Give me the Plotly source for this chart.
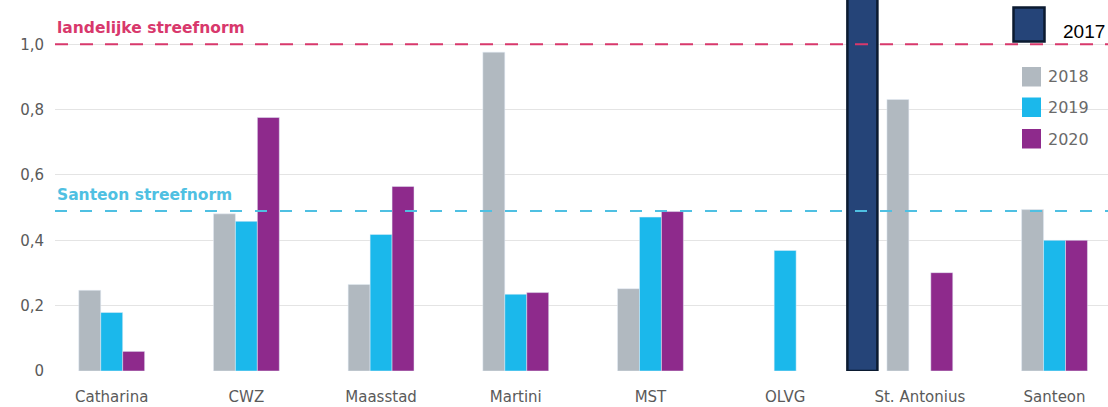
import plotly.graph_objects as go

# ---- data ----
categories = ["Catharina", "CWZ", "Maasstad", "Martini", "MST", "OLVG", "St. Antonius", "Santeon"]
v2017 = [None, None, None, None, None, None, 1.25, None]
v2018 = [0.247, 0.481, 0.265, 0.976, 0.252, None, 0.831, 0.494]
v2019 = [0.179, 0.458, 0.418, 0.235, 0.471, 0.369, None, 0.400]
v2020 = [0.060, 0.776, 0.565, 0.240, 0.488, None, 0.301, 0.400]
landelijke_norm = 1.0
santeon_norm = 0.49
ytick_vals = [0, 0.2, 0.4, 0.6, 0.8, 1.0]
ytick_text = ["0", "0,2", "0,4", "0,6", "0,8", "1,0"]
legend_years = ["2018", "2019", "2020"]

C2017 = "#254478"
C2018 = "#b1b9c0"
C2019 = "#1bb8eb"
C2020 = "#8e2a8c"
PINK = "#d8386c"
CYAN = "#4fc0e2"
FONT = "DejaVu Sans"

W, H = 1108, 407
ML, MR, MT, MB = 55, 0, 0, 36

fig = go.Figure()
bw = 0.163
fig.add_bar(x=categories, y=v2018, width=bw, offset=-1.5 * bw, marker_color=C2018, name="2018")
fig.add_bar(x=categories, y=v2019, width=bw, offset=-0.5 * bw, marker_color=C2019, name="2019")
fig.add_bar(x=categories, y=v2020, width=bw, offset=0.5 * bw, marker_color=C2020, name="2020")
fig.add_bar(x=categories, y=v2017, width=0.223, offset=-0.538, marker_color=C2017,
            marker_line_color="#0b1a30", marker_line_width=2.5, name="2017")

shapes = []
# norm lines
shapes.append(dict(type="line", xref="x domain", yref="y", x0=0, x1=1,
                   y0=landelijke_norm, y1=landelijke_norm,
                   line=dict(color=PINK, width=2, dash="13px,12px")))
shapes.append(dict(type="line", xref="x domain", yref="y", x0=0, x1=1,
                   y0=santeon_norm, y1=santeon_norm,
                   line=dict(color=CYAN, width=2, dash="12px,13px")))

def px2x(px):
    return (px - ML) / (W - ML - MR)

def py2y(py):
    return (H - MB - py) / (H - MB - MT)

# legend background
shapes.append(dict(type="rect", xref="x domain", yref="y domain", layer="below",
                   x0=px2x(992), x1=1.0, y0=py2y(165), y1=py2y(50),
                   fillcolor="white", line=dict(width=0)))
# 2017 legend box
shapes.append(dict(type="rect", xref="x domain", yref="y domain",
                   x0=px2x(1013.5), x1=px2x(1044.5), y0=py2y(41.5), y1=py2y(7.5),
                   fillcolor=C2017, line=dict(color="#0b1a30", width=2.5)))

annotations = []
annotations.append(dict(text="2017", xref="x domain", yref="y domain", x=px2x(1061), y=py2y(31.5),
                        xanchor="left", yanchor="middle", showarrow=False,
                        font=dict(family="Liberation Sans", size=19, color="#000000")))
leg_cols = [C2018, C2019, C2020]
leg_tops = [67, 97.5, 129]
for yr, col, top in zip(legend_years, leg_cols, leg_tops):
    shapes.append(dict(type="rect", xref="x domain", yref="y domain",
                       x0=px2x(1022), x1=px2x(1041), y0=py2y(top + 19.5), y1=py2y(top),
                       fillcolor=col, line=dict(width=0)))
    annotations.append(dict(text=yr, xref="x domain", yref="y domain", x=px2x(1046),
                            y=py2y(top + 10), xanchor="left", yanchor="middle", showarrow=False,
                            font=dict(family=FONT, size=16, color="#6a6a6a")))

annotations.append(dict(text="<b>landelijke streefnorm</b>", xref="x domain", yref="y",
                        x=0, y=landelijke_norm, yshift=16, xanchor="left", yanchor="middle",
                        showarrow=False, font=dict(family=FONT, size=15.5, color=PINK)))
annotations.append(dict(text="<b>Santeon streefnorm</b>", xref="x domain", yref="y",
                        x=0, y=santeon_norm, yshift=16, xanchor="left", yanchor="middle",
                        showarrow=False, font=dict(family=FONT, size=15.5, color=CYAN)))

fig.update_layout(
    width=W, height=H,
    margin=dict(l=ML, r=MR, t=MT, b=MB, pad=0),
    barmode="overlay",
    showlegend=False,
    plot_bgcolor="white", paper_bgcolor="white",
    shapes=shapes, annotations=annotations,
    font=dict(family=FONT, color="#5a5a5a"),
)
fig.update_xaxes(range=[-0.421, 7.397], showgrid=False, showline=False, ticks="",
                 tickfont=dict(size=15, color="#5a5a5a"), ticklabelstandoff=15)
fig.update_yaxes(range=[0, (H - MB - MT) / 326.7], tickvals=ytick_vals, ticktext=ytick_text,
                 showgrid=True, gridcolor="#e4e4e4", gridwidth=1, zeroline=False, showline=False,
                 tickfont=dict(size=15, color="#5a5a5a"), ticklabelstandoff=10)

fig.write_html("out.html", config={"displayModeBar": False},
               post_script="document.body.style.margin='0';")
